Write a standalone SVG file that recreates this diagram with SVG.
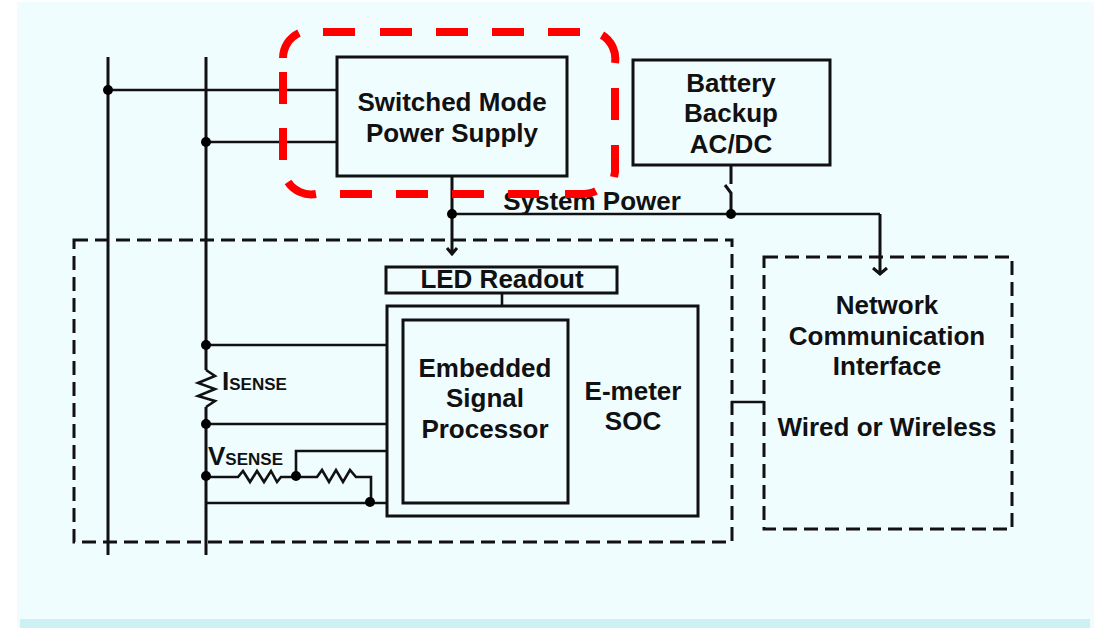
<svg xmlns="http://www.w3.org/2000/svg" width="1104" height="628" viewBox="0 0 1104 628">
<style>
text{font-family:"Liberation Sans",Arial,sans-serif;font-weight:700;fill:#111;text-anchor:middle}
.t{font-size:26px}
.s{font-size:17px}
.l{text-anchor:start;font-size:26px}
.b{fill:none;stroke:#111;stroke-width:3}
.w{stroke:#111;stroke-width:2.6;fill:none}
.v{stroke:#111;stroke-width:3;fill:none}
.d{fill:none;stroke:#111;stroke-width:3;stroke-dasharray:14 7}
.j{fill:#000}
.r{fill:none;stroke:#f00;stroke-width:8}
</style>
<rect width="1104" height="628" fill="#fff"/>
<rect x="17" y="2" width="1077" height="626" fill="#f3fcfd"/>
<rect x="20" y="2" width="1069" height="617" fill="#f0fdff"/>
<rect x="20" y="619" width="1070" height="9" fill="#cdf0f5"/>
<g id="connectors">
<path class="v" d="M108 57V555M206 57V370M206 407V555"/>
<path class="w" d="M108 90H337M206 142H337"/>
<path class="v" d="M452 176V252M447 248L452 254L457 248"/>
<path class="w" d="M452 214H880"/>
<path class="v" d="M880 214V274M873 268L880 274L887 268"/>
<path class="v" d="M731 165V184M725 185L731 193V214"/>
<path class="w" d="M502 293V306"/>
<path class="w" d="M206 345H386M206 424H386"/>
<path class="w" d="M206 370L215 376L198 383L215 389L198 396L215 401L206 407"/>
<path class="w" d="M206 477H238L243 471L250 482L257 471L264 482L271 471L277 482L281 477H296M296 477V451H386M296 477H317L322 470L329 482L336 470L343 482L350 470L356 477H371V503M206 503H386"/>
<path class="w" d="M731 402H764"/>
<circle class="j" cx="108" cy="90" r="5"/><circle class="j" cx="206" cy="142" r="5"/>
<circle class="j" cx="452" cy="214" r="5"/><circle class="j" cx="731" cy="214" r="5"/>
<circle class="j" cx="206" cy="345" r="5"/><circle class="j" cx="206" cy="424" r="5"/>
<circle class="j" cx="206" cy="476" r="5"/><circle class="j" cx="296" cy="476" r="5"/><circle class="j" cx="370" cy="502" r="5"/>
</g>
<g id="metering-boundary"><rect class="d" x="74" y="240" width="658" height="302"/></g>
<g id="smps"><rect class="b" x="337" y="57" width="230" height="119"/><text class="t" x="452" y="111">Switched Mode</text><text class="t" x="452" y="142">Power Supply</text></g>
<g id="battery"><rect class="b" x="633" y="60" width="197" height="105"/><text class="t" x="731" y="92">Battery</text><text class="t" x="731" y="122">Backup</text><text class="t" x="731" y="153">AC/DC</text></g>
<g id="system-power"><text class="t" x="592" y="210">System Power</text></g>
<g id="led"><rect class="b" x="386" y="267" width="231" height="26"/><text class="t" x="502" y="288">LED Readout</text></g>
<g id="soc"><rect class="b" x="387" y="306" width="311" height="210"/><text class="t" x="633" y="400">E-meter</text><text class="t" x="633" y="430">SOC</text></g>
<g id="dsp"><rect class="b" x="403" y="320" width="165" height="183"/><text class="t" x="485" y="377">Embedded</text><text class="t" x="485" y="407">Signal</text><text class="t" x="485" y="438">Processor</text></g>
<g id="network"><rect class="d" x="764" y="257" width="248" height="272"/><text class="t" x="887" y="314">Network</text><text class="t" x="887" y="345">Communication</text><text class="t" x="887" y="375">Interface</text><text class="t" x="887" y="436">Wired or Wireless</text></g>
<g id="isense"><text class="l" x="222" y="390">I<tspan class="s">SENSE</tspan></text></g>
<g id="vsense"><text class="l" x="208" y="465">V<tspan class="s">SENSE</tspan></text></g>
<g id="highlight"><path class="r" d="M323 32H355M380 32H412M436 32H468M492 32H524M548 32H580M602 35A28 28 0 0 1 615 63M615 88V120M615 145V172L614 177M596 191Q590 194 580 194H565M539 194H508M484 194H452M428 194H396M372 194H340M316 194A28 28 0 0 1 288 182M283 160V128M283 104V72M283 58A28 28 0 0 1 299 33"/></g>
</svg>
